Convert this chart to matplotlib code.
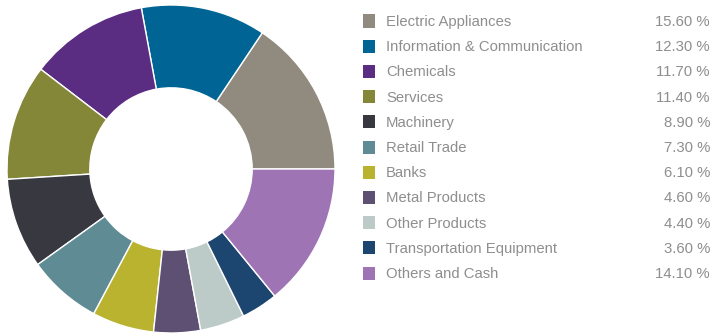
import matplotlib
matplotlib.use("Agg")
import matplotlib.pyplot as plt
from matplotlib.patches import Rectangle

categories = ["Electric Appliances", "Information & Communication", "Chemicals", "Services",
              "Machinery", "Retail Trade", "Banks", "Metal Products", "Other Products",
              "Transportation Equipment", "Others and Cash"]
values = [15.60, 12.30, 11.70, 11.40, 8.90, 7.30, 6.10, 4.60, 4.40, 3.60, 14.10]
colors = ["#918a7e", "#006595", "#5a2c82", "#848738", "#383840", "#5f8c94",
          "#bab330", "#5e5073", "#bdcbc8", "#1c4570", "#9e74b5"]

W, H = 712, 333
fig = plt.figure(figsize=(W / 100, H / 100), dpi=100)
plt.rcParams['font.family'] = ['Liberation Sans', 'DejaVu Sans']

# pie axes: center (171, 169 from top), radius 164 px
cx, cy, R = 171, 169, 164
ax = fig.add_axes([(cx - R) / W, (H - cy - R) / H, 2 * R / W, 2 * R / H])
ax.pie(values, colors=colors, startangle=0, counterclock=True, radius=1,
       wedgeprops=dict(width=0.505, edgecolor="white", linewidth=1.0))
ax.set_xlim(-1, 1)
ax.set_ylim(-1, 1)
ax.set_aspect("auto")
ax.axis("off")

# legend
text_color = "#8e8e8e"
row0, dy = 21, 25.2
for i, (cat, v, c) in enumerate(zip(categories, values, colors)):
    y = row0 + i * dy
    fig.patches.append(Rectangle((363 / W, (H - y - 6.5) / H), 12 / W, 13 / H,
                                 transform=fig.transFigure, facecolor=c, edgecolor="none"))
    fig.text(386 / W, (H - y - 1) / H, cat, color=text_color, fontsize=10.7,
             va="center", ha="left")
    fig.text(710 / W, (H - y - 1) / H, f"{v:.2f} %", color=text_color, fontsize=10.7,
             va="center", ha="right")

fig.savefig("out.png", dpi=100)
